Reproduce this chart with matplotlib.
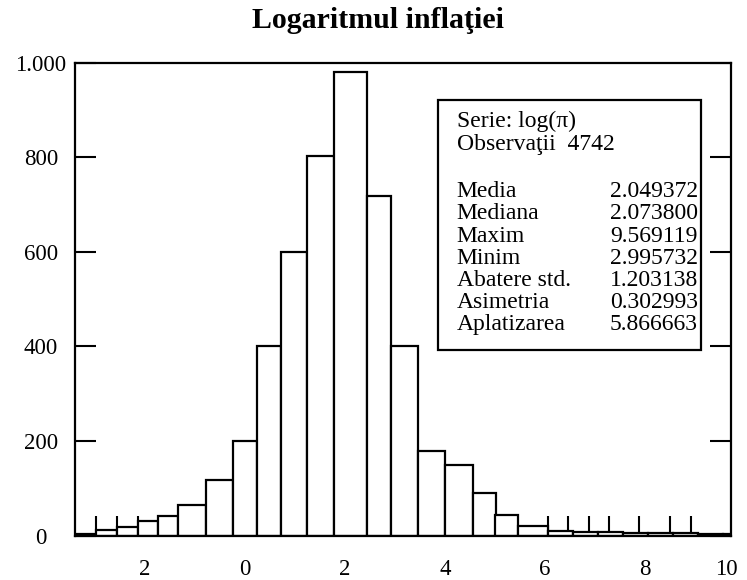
import matplotlib
matplotlib.use("Agg")
import matplotlib.pyplot as plt
import numpy as np
from matplotlib.patches import Rectangle

plt.rcParams['font.family'] = ['Liberation Serif', 'DejaVu Serif']

# ---- data ----
bin_edges = [-3.40, -2.98, -2.57, -2.15, -1.75, -1.35, -0.79, -0.25, 0.23, 0.71,
             1.23, 1.78, 2.43, 2.92, 3.46, 3.99, 4.55, 5.01, 5.46, 6.05,
             6.55, 7.05, 7.55, 8.05, 8.55, 9.05, 9.55, 9.71]
counts = [4, 11, 18, 32, 42, 65, 117, 200, 402, 600,
          803, 981, 718, 402, 180, 149, 90, 43, 21,
          9, 8, 8, 6, 6, 5, 4, 4]

x_tick_pos = [-2, 0, 2, 4, 6, 8, 9.62]
x_tick_labels = ["2", "0", "2", "4", "6", "8", "10"]
x_minor_ticks = [-2.98, -2.57, -2.15, 6.05, 6.45, 6.87, 7.28, 7.88, 8.50, 8.91]
y_tick_pos = [0, 200, 400, 600, 800, 1000]
y_tick_labels = ["0", "200", "400", "600", "800", "1.000"]

title = "Logaritmul inflaţiei"
header_lines = ["Serie: log(π)", "Observaţii  4742"]
stat_names = ["Media", "Mediana", "Maxim", "Minim", "Abatere std.", "Asimetria", "Aplatizarea"]
stat_values = ["2.049372", "2.073800", "9.569119", "2.995732", "1.203138", "0.302993", "5.866663"]

# ---- figure ----
W, H = 747, 580
fig = plt.figure(figsize=(W / 100, H / 100), dpi=100)
fig.patch.set_facecolor("white")
ax = fig.add_axes([75 / W, 1 - 535.7 / H, 655.7 / W, 473.1 / H])

edges = np.array(bin_edges)
ax.bar(edges[:-1], counts, width=np.diff(edges), align="edge",
       facecolor="white", edgecolor="black", linewidth=1.6, zorder=2)

ax.set_xlim(-3.40, 9.714)
ax.set_ylim(0, 1000)

for s in ax.spines.values():
    s.set_linewidth(1.6)
    s.set_color("black")
    s.set_zorder(5)

ax.set_xticks(x_tick_pos, x_tick_labels)
ax.set_xticks(x_minor_ticks, minor=True)
ax.tick_params(axis="x", which="major", length=0, pad=16.5, labelsize=16.5)
ax.tick_params(axis="x", which="minor", direction="in", length=14.5, width=1.5)

ax.set_yticks(y_tick_pos, y_tick_labels)
ax.tick_params(axis="y", which="major", direction="in", length=15, width=1.5,
               left=True, right=True, pad=24.5, labelsize=16.5)
for lbl in ax.get_yticklabels():
    lbl.set_ha("center")

# stats box
ax.add_patch(Rectangle((0.5536, 0.3925), 0.9542 - 0.5536, 0.921 - 0.3925,
                       transform=ax.transAxes, facecolor="white",
                       edgecolor="black", linewidth=1.6, zorder=6))

fs = 17
fig.text(456.7 / W, 1 - 121 / H, header_lines[0], fontsize=fs, va="center", ha="left", zorder=7)
fig.text(456.7 / W, 1 - 144 / H, header_lines[1], fontsize=fs, va="center", ha="left", zorder=7)
for i, (n, v) in enumerate(zip(stat_names, stat_values)):
    y = 191.7 + 22.2 * i
    fig.text(456.7 / W, 1 - y / H, n, fontsize=fs, va="center", ha="left", zorder=7)
    fig.text(698 / W, 1 - y / H, v, fontsize=fs, va="center", ha="right", zorder=7)

fig.text(378 / W, 1 - 28.3 / H, title, fontsize=21.5, fontweight="bold",
         ha="center", va="baseline")

fig.savefig("out.png", dpi=100, facecolor="white")
